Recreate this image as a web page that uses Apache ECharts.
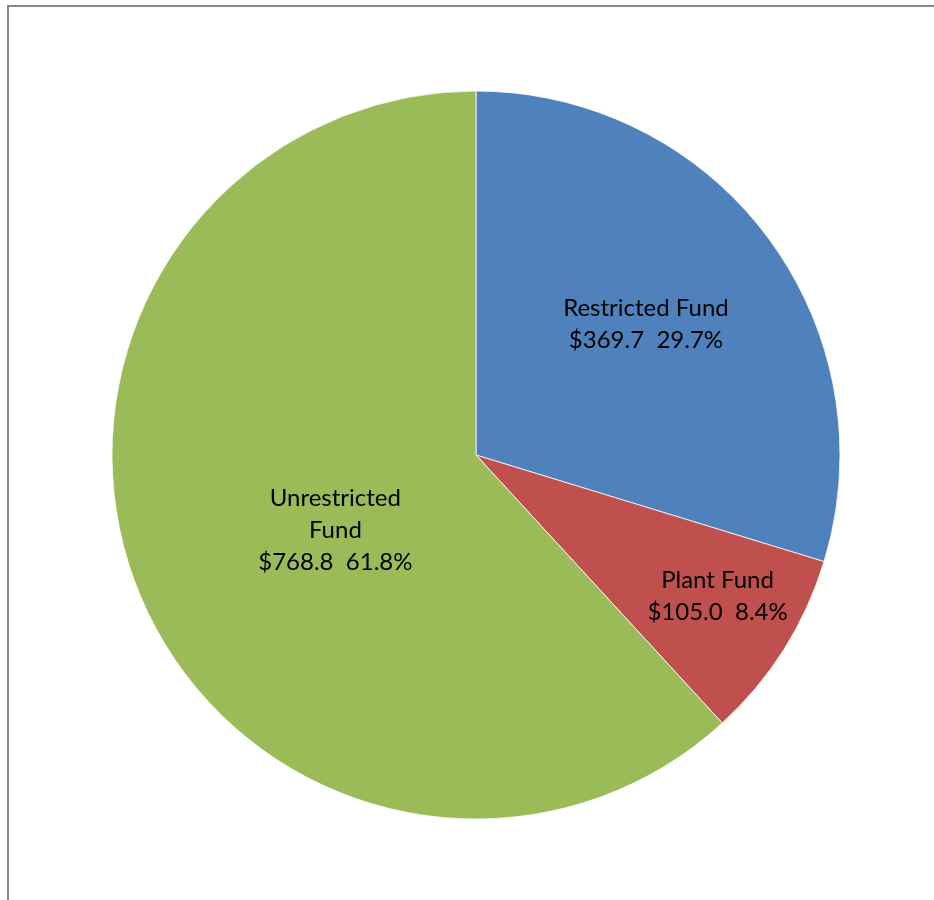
<!DOCTYPE html>
<html>
<head>
<meta charset="utf-8">
<script src="https://cdn.jsdelivr.net/npm/echarts@6/dist/echarts.min.js"></script>
<style>
  html, body { margin: 0; padding: 0; background: #fff; }
  #chart { position: absolute; left: 0; top: 0; width: 934px; height: 900px; }
  #frame {
    position: absolute; left: 7px; top: 5px; width: 2000px; height: 2000px;
    border-left: 2px solid #878787; border-top: 2px solid #878787;
    pointer-events: none;
  }
</style>
</head>
<body>
<div id="chart"></div>
<div id="frame"></div>
<script>
// Fund balances (millions of dollars)
const categories = ['Restricted Fund', 'Plant Fund', 'Unrestricted Fund'];
const amounts = [369.7, 105.0, 768.8];
const labelNames = ['Restricted Fund', 'Plant Fund', 'Unrestricted\nFund'];

const colors = ['#4F81BD', '#C0504D', '#9BBB59'];
// Label placement: fraction of radius and angular nudge (degrees) per slice
const labelRadius = [0.58, 0.76, 0.43];
const labelNudge = [-1.0, -2, -7];

const CX = 476, CY = 455, R = 364;
const total = amounts.reduce((a, b) => a + b, 0);

// Mid angle (radians, clockwise from 12 o'clock) of each slice
const midAngles = [];
let cum = 0;
amounts.forEach(v => {
  midAngles.push(((cum + v / 2) / total) * Math.PI * 2);
  cum += v;
});

const chart = echarts.init(document.getElementById('chart'), null, { renderer: 'canvas' });
chart.setOption({
  animation: false,
  backgroundColor: '#fff',
  series: [{
    type: 'pie',
    center: [CX, CY],
    radius: [0, R],
    startAngle: 90,
    clockwise: true,
    avoidLabelOverlap: false,
    itemStyle: { borderColor: '#ffffff', borderWidth: 0.8 },
    label: {
      show: true,
      position: 'inside',
      color: '#000',
      fontFamily: 'Lato, "Open Sans", sans-serif',
      fontSize: 24,
      lineHeight: 32,
      align: 'center',
      formatter: p => {
        const i = p.dataIndex;
        const pct = (amounts[i] / total * 100).toFixed(1);
        return labelNames[i] + '\n$' + amounts[i].toFixed(1) + '  ' + pct + '%';
      }
    },
    labelLine: { show: false },
    labelLayout: p => {
      const i = p.dataIndex;
      const a = midAngles[i];
      const b = a + labelNudge[i] * Math.PI / 180;
      const r = labelRadius[i] * R;
      const tx = r * Math.sin(b), ty = -r * Math.cos(b);
      const dx0 = 0.5 * R * Math.sin(a), dy0 = -0.5 * R * Math.cos(a);
      return { dx: tx - dx0, dy: ty - dy0 };
    },
    data: categories.map((c, i) => ({
      name: c,
      value: amounts[i],
      itemStyle: { color: colors[i] }
    }))
  }]
});
</script>
</body>
</html>
